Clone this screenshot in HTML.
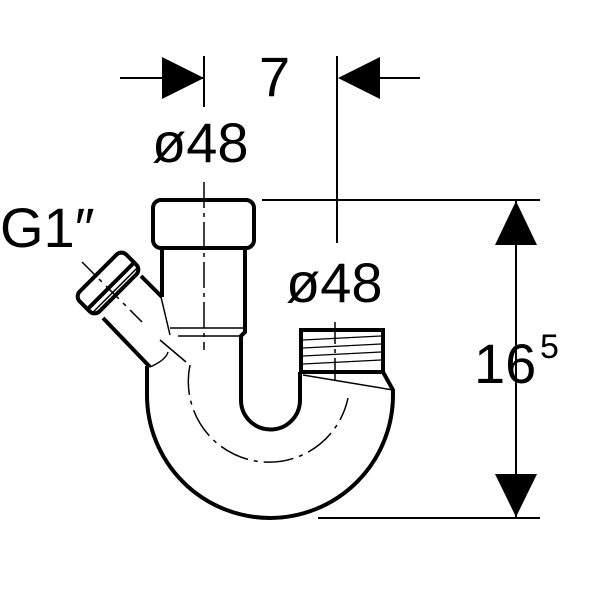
<!DOCTYPE html>
<html><head><style>body{margin:0;background:#fff}svg{display:block}</style></head><body>
<svg width="600" height="600" viewBox="0 0 600 600" xmlns="http://www.w3.org/2000/svg" font-family="Liberation Sans, sans-serif">
<g stroke="#000" fill="none">
<!-- dimension top -->
<line x1="120" y1="78" x2="204" y2="78" stroke-width="2"/>
<polygon points="162,57 204,78 162,99" fill="#000" stroke="none"/>
<line x1="204" y1="56" x2="204" y2="107" stroke-width="2"/>
<line x1="337" y1="56" x2="337" y2="243" stroke-width="2"/>
<polygon points="380,57 338,78 380,99" fill="#000" stroke="none"/>
<line x1="378" y1="78" x2="420" y2="78" stroke-width="2"/>
<!-- right vertical dim -->
<line x1="262" y1="200" x2="540" y2="200" stroke-width="2"/>
<line x1="318" y1="518" x2="540" y2="518" stroke-width="2"/>
<line x1="516" y1="200" x2="516" y2="518" stroke-width="2"/>
<polygon points="516,201 495,245 537,245" fill="#000" stroke="none"/>
<polygon points="516,517 495,474 537,474" fill="#000" stroke="none"/>
<!-- centre lines -->
<line x1="204" y1="182" x2="204" y2="350" stroke-width="1.5" stroke-dasharray="26,5,4,5"/>
<line x1="335" y1="322" x2="335" y2="385" stroke-width="1.5" stroke-dasharray="22,5,4,5"/>
<!-- top cap -->
<rect x="153" y="200" width="101" height="48" rx="8" stroke-width="4"/>
<!-- pipe body -->
<path d="M162 248 V297 M245 248 V332 L241 336 V400 A29 29 0 0 0 300 400 V372" stroke-width="4"/>
<line x1="161" y1="297" x2="170" y2="335" stroke-width="1.5"/>
<line x1="170" y1="328" x2="243" y2="328" stroke-width="1.5"/>
<line x1="178" y1="336" x2="241" y2="336" stroke-width="1.5"/>
<!-- outer U -->
<path d="M147 366 V395 A123 123 0 0 0 393 395 V390 L383 372" stroke-width="4"/>
<path d="M300 372 L383 372" stroke-width="3"/>
<line x1="303" y1="375" x2="393" y2="390" stroke-width="1.5"/>
<!-- inner dashed arc -->
<path d="M190 365 A78 78 0 0 0 348 398" stroke-width="1.5" stroke-dasharray="30,6,4,6"/>
<!-- threaded fitting -->
<rect x="301" y="330" width="82" height="42" stroke-width="4"/>
<g stroke-width="1.2">
<line x1="303" y1="340" x2="381" y2="336"/><line x1="303" y1="348" x2="381" y2="344"/>
<line x1="303" y1="356" x2="381" y2="352"/><line x1="303" y1="364" x2="381" y2="360"/>
</g>
<!-- branch tube -->
<path d="M141 276 L162 297 M103 318 L150 367" stroke-width="4"/>
<path d="M150 367 Q166 360 168 352" stroke-width="1.5"/>
<line x1="160" y1="340" x2="186" y2="362" stroke-width="1.5"/>
<!-- branch cap -->
<g transform="rotate(45 108 283)">
<rect x="94" y="250" width="28" height="66" rx="7" stroke-width="4"/>
<line x1="112" y1="250" x2="112" y2="316" stroke-width="4"/>
<line x1="118" y1="252" x2="118" y2="314" stroke-width="1.5"/>
</g>
<line x1="82" y1="262" x2="142" y2="322" stroke-width="1.5" stroke-dasharray="18,6,4,6"/>
</g>
<g fill="#000" font-size="56">
<text x="259" y="96">7</text>
<text x="152" y="162">ø48</text>
<text x="286" y="302">ø48</text>
<text x="0" y="247">G1″</text>
<text x="474" y="383">16</text>
<text x="540" y="358" font-size="34">5</text>
</g>
</svg>
</body></html>
